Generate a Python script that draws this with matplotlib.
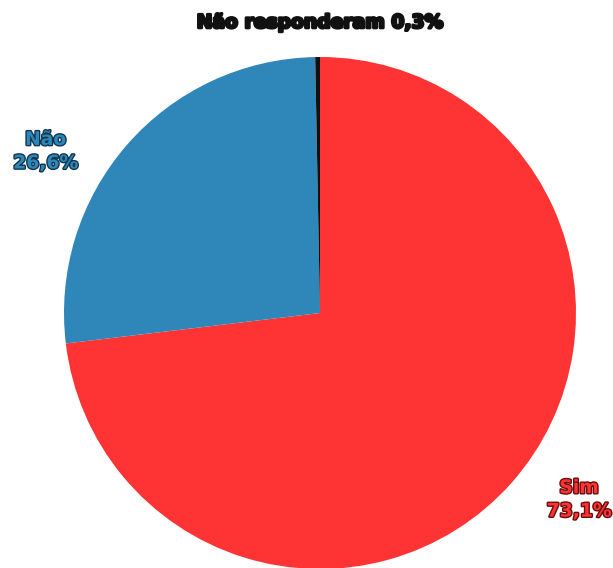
import matplotlib
matplotlib.use("Agg")
import matplotlib.pyplot as plt
import matplotlib.patheffects as pe

labels = ["Sim", "Não", "Não responderam"]
values = [73.1, 26.6, 0.3]
colors = ["#fe3434", "#2f86b8", "#111111"]
edge_colors = ["#6a0c0c", "#10354f", "#111111"]
label_pos = [(1.012, -0.728), (-1.072, 0.632), (0.0, 1.135)]

fig = plt.figure(figsize=(6.13, 5.68), dpi=100)
ax = fig.add_axes([64 / 613, -1 / 568, 512 / 613, 512 / 568])
ax.pie(values, colors=colors, startangle=90, counterclock=False,
       radius=1, wedgeprops=dict(linewidth=0))
ax.set_xlim(-1, 1)
ax.set_ylim(-1, 1)

for i, (lab, val) in enumerate(zip(labels, values)):
    x, y = label_pos[i]
    pct = f"{val:.1f}".replace(".", ",") + "%"
    if lab == "Não responderam":
        txt = f"{lab} {pct}"
    else:
        txt = f"{lab}\n{pct}"
    t = ax.text(x, y, txt, ha="center", va="center", fontsize=13.5,
                fontweight="bold", family="DejaVu Sans",
                color=colors[i], linespacing=1.3, clip_on=False)
    t.set_path_effects([pe.Stroke(linewidth=2, foreground=edge_colors[i]),
                        pe.Normal()])

fig.savefig("out.png", dpi=100)
